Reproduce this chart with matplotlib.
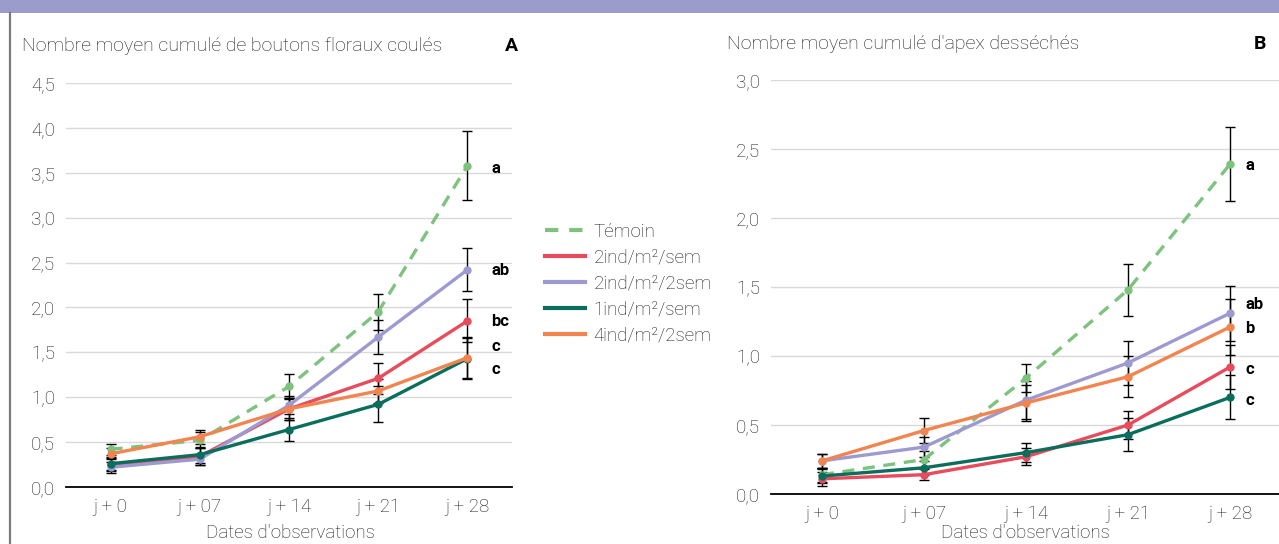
import matplotlib
matplotlib.use("Agg")
import matplotlib.pyplot as plt
from matplotlib.lines import Line2D
from matplotlib.patches import Rectangle

plt.rcParams['font.family'] = ['Roboto', 'DejaVu Sans']
plt.rcParams['font.weight'] = 'light'

dates = ["j + 0", "j + 07", "j + 14", "j + 21", "j + 28"]
series = ["Témoin", "2ind/m²/sem", "2ind/m²/2sem", "1ind/m²/sem", "4ind/m²/2sem"]
colors = ["#7dc37d", "#e84c5c", "#9d9ad1", "#0b6e5d", "#f2844f"]

# Panel A: Nombre moyen cumulé de boutons floraux coulés
a_temoin = [0.42, 0.52, 1.12, 1.95, 3.58]
a_2sem = [0.25, 0.34, 0.87, 1.21, 1.85]
a_22sem = [0.22, 0.31, 0.91, 1.67, 2.42]
a_1sem = [0.26, 0.36, 0.64, 0.92, 1.43]
a_42sem = [0.37, 0.56, 0.87, 1.07, 1.44]
a_err_temoin = [0.06, 0.09, 0.14, 0.20, 0.38]
a_err_2sem = [0.07, 0.09, 0.12, 0.17, 0.24]
a_err_22sem = [0.06, 0.06, 0.10, 0.19, 0.24]
a_err_1sem = [0.07, 0.09, 0.13, 0.20, 0.23]
a_err_42sem = [0.06, 0.08, 0.12, 0.13, 0.23]
a_letters = ["a", "bc", "ab", "c", "c"]
a_letter_y = [3.55, 1.84, 2.41, 1.31, 1.56]

# Panel B: Nombre moyen cumulé d'apex desséchés
b_temoin = [0.14, 0.25, 0.84, 1.48, 2.39]
b_2sem = [0.11, 0.14, 0.27, 0.50, 0.92]
b_22sem = [0.24, 0.34, 0.68, 0.95, 1.31]
b_1sem = [0.13, 0.19, 0.30, 0.43, 0.70]
b_42sem = [0.24, 0.46, 0.66, 0.85, 1.21]
b_err_temoin = [0.05, 0.06, 0.10, 0.19, 0.27]
b_err_2sem = [0.05, 0.04, 0.06, 0.10, 0.16]
b_err_22sem = [0.05, 0.07, 0.14, 0.16, 0.20]
b_err_1sem = [0.05, 0.05, 0.07, 0.12, 0.16]
b_err_42sem = [0.05, 0.09, 0.13, 0.15, 0.20]
b_letters = ["a", "c", "ab", "c", "b"]
b_letter_y = [2.38, 0.90, 1.37, 0.68, 1.20]

W, H = 1279, 544
TXT = "#1e1e1e"
fig = plt.figure(figsize=(W / 100, H / 100), dpi=100)

# decorative frame
fig.add_artist(Rectangle((0, 1 - 13 / H), 1, 13 / H, transform=fig.transFigure,
                         facecolor="#9b9bcc", edgecolor="none"))
fig.add_artist(Line2D([9.5 / W, 9.5 / W], [0, 1 - 13 / H], transform=fig.transFigure,
                      color="#7a7a7a", lw=1.6))


def panel(rect, vals, errs, letters, letter_y, ymax, ystep, letter_off, title, tag, tag_x,
          title_y, xlab_x):
    l, r, t, b = rect
    ax = fig.add_axes([l / W, 1 - b / H, (r - l) / W, (b - t) / H])
    x = list(range(len(dates)))
    for i, (v, e) in enumerate(zip(vals, errs)):
        ax.errorbar(x, v, yerr=e, fmt="none", ecolor="black", elinewidth=1.0,
                    capsize=3.5, capthick=1.0, zorder=2)
    for i, v in enumerate(vals):
        kw = dict(color=colors[i], lw=2.4, marker="o", markersize=5, zorder=3 + i,
                  solid_capstyle="round")
        if i == 0:
            ax.plot(x, v, linestyle=(0, (3.6, 2.6)), **kw)
        else:
            ax.plot(x, v, **kw)
    for lt, ly in zip(letters, letter_y):
        ax.annotate(lt, (len(dates) - 1, ly), xytext=(letter_off, 0), textcoords="offset points",
                    ha="left", va="center", fontsize=12, fontweight="bold", color="black")
    ax.set_xlim(-0.5, len(dates) - 0.5)
    ax.set_ylim(0, ymax)
    n = int(round(ymax / ystep))
    ticks = [k * ystep for k in range(n + 1)]
    ax.set_yticks(ticks)
    ax.set_yticklabels([f"{t:.1f}".replace(".", ",") for t in ticks])
    ax.set_xticks(x)
    ax.set_xticklabels(dates)
    ax.tick_params(axis="both", length=0, labelsize=13.5, colors=TXT)
    ax.tick_params(axis="y", pad=8)
    ax.tick_params(axis="x", pad=8)
    ax.grid(axis="y", color="#d9d9d9", lw=1.0, zorder=0)
    ax.set_axisbelow(True)
    for s in ["top", "right", "left"]:
        ax.spines[s].set_visible(False)
    ax.spines["bottom"].set_color("black")
    ax.spines["bottom"].set_linewidth(1.3)
    ax.spines["bottom"].set_zorder(10)
    fig.text(xlab_x / W, 1 - 533 / H, "Dates d'observations", fontsize=13.5, color=TXT,
             ha="center", va="center")
    fig.text(l / W - (44 / W), 1 - title_y / H, title, fontsize=14, color=TXT,
             ha="left", va="center")
    fig.text(tag_x / W, 1 - title_y / H, tag, fontsize=14, fontweight="bold",
             ha="center", va="center", color="black")
    return ax


axA = panel((66, 512, 83, 487), [a_temoin, a_2sem, a_22sem, a_1sem, a_42sem],
            [a_err_temoin, a_err_2sem, a_err_22sem, a_err_1sem, a_err_42sem],
            a_letters, a_letter_y, 4.5, 0.5, 17, "Nombre moyen cumulé de boutons floraux coulés",
            "A", 511, 46, 290)
axB = panel((771, 1281, 80, 494), [b_temoin, b_2sem, b_22sem, b_1sem, b_42sem],
            [b_err_temoin, b_err_2sem, b_err_22sem, b_err_1sem, b_err_42sem],
            b_letters, b_letter_y, 3.0, 0.5, 11, "Nombre moyen cumulé d'apex desséchés",
            "B", 1260, 44, 1025)

handles = []
for i, name in enumerate(series):
    if i == 0:
        h = Line2D([], [], color=colors[i], lw=3, linestyle=(0, (3.2, 2.6)))
    else:
        h = Line2D([], [], color=colors[i], lw=3)
    handles.append(h)
fig.legend(handles, series, loc="upper left", bbox_to_anchor=(545 / W, 1 - 223 / H),
           frameon=False, fontsize=13.5, handlelength=2.15, handletextpad=0.45,
           labelspacing=0.42, borderpad=0, borderaxespad=0, labelcolor=TXT)

fig.savefig("out.png", dpi=100)
